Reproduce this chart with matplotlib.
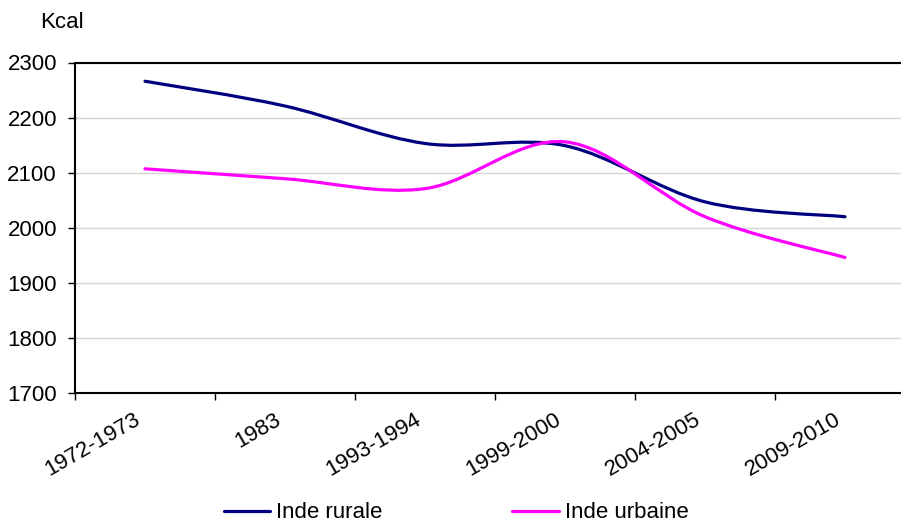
import numpy as np
import matplotlib
matplotlib.use("Agg")
import matplotlib.pyplot as plt
from matplotlib.path import Path
from matplotlib.patches import PathPatch
from matplotlib.lines import Line2D

categories = ["1972-1973", "1983", "1993-1994", "1999-2000", "2004-2005", "2009-2010"]
rurale = [2266, 2221, 2153, 2149, 2047, 2020]
urbaine = [2107, 2089, 2071, 2156, 2020, 1946]
yticks = [1700, 1800, 1900, 2000, 2100, 2200, 2300]

plt.rcParams['font.family'] = ['Liberation Sans', 'DejaVu Sans']
FS = 16

W, H = 901, 524
fig = plt.figure(figsize=(W / 100, H / 100), dpi=100)
ax = fig.add_axes([75 / W, 1 - 393 / H, 840 / W, (393 - 62.5) / H])


def smooth_path(xs, ys):
    pts = np.column_stack([xs, ys]).astype(float)
    n = len(pts)
    verts = [pts[0]]
    codes = [Path.MOVETO]
    for i in range(n - 1):
        p0 = pts[max(i - 1, 0)]
        p1 = pts[i]
        p2 = pts[i + 1]
        p3 = pts[min(i + 2, n - 1)]
        c1 = p1 + (p2 - p0) / 6
        c2 = p2 - (p3 - p1) / 6
        verts += [c1, c2, p2]
        codes += [Path.CURVE4] * 3
    return Path(verts, codes)


x = np.arange(len(categories))
series = [("Inde rurale", rurale, "#000080"), ("Inde urbaine", urbaine, "#FF00FF")]
handles = []
for name, vals, col in series:
    patch = PathPatch(smooth_path(x, vals), fill=False, edgecolor=col, lw=2.3,
                      capstyle='round', joinstyle='round', zorder=3)
    ax.add_patch(patch)
    handles.append(Line2D([], [], color=col, lw=2.3, solid_capstyle='round', label=name))

ax.set_xlim(-0.5, len(categories) - 0.5)
ax.set_ylim(1700, 2300)
ax.set_yticks(yticks)
ax.set_yticklabels([str(v) for v in yticks], fontsize=FS)
ax.yaxis.grid(True, color='#d4d4d4', lw=1.0)
ax.set_axisbelow(True)

ax.set_xticks(np.arange(-0.5, len(categories), 1.0))
ax.set_xticklabels([])
ax.tick_params(axis='x', length=5, width=1, color='black', direction='out')
ax.tick_params(axis='y', length=5, width=1, color='black', direction='out', pad=8)

for xi, lab in zip(x, categories):
    ax.annotate(lab, xy=(xi, 0), xycoords=('data', 'axes fraction'),
                xytext=(-6, -25), textcoords='offset pixels',
                rotation=30, ha='right', va='center', rotation_mode='anchor',
                fontsize=FS)

for s in ['left', 'bottom', 'top']:
    ax.spines[s].set_color('black')
    ax.spines[s].set_linewidth(1.5)
ax.spines['right'].set_visible(False)

fig.text(40 / W, 1 - 22 / H, "Kcal", fontsize=FS, ha='left', va='center')

fig.legend(handles=handles, loc='center', bbox_to_anchor=(456 / W, 1 - 513 / H),
           ncol=2, frameon=False, fontsize=FS, handlelength=2.1, handletextpad=0.25,
           columnspacing=5.85)

fig.savefig("out.png", dpi=100)
